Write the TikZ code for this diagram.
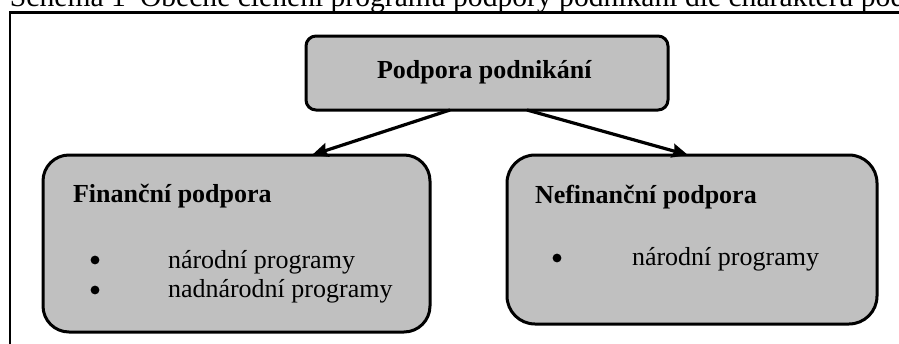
\documentclass[tikz,border=0pt]{standalone}
\usepackage{fontspec}
\setmainfont{Liberation Serif}
\usetikzlibrary{arrows.meta,calc}
\definecolor{boxgray}{HTML}{C0C0C0}
\begin{document}
\begin{tikzpicture}[x=0.5pt,y=-0.5pt,
  box/.style={draw=black,line width=1.5pt,fill=boxgray,rectangle,inner sep=0pt,outer sep=0pt},
  txt/.style={inner sep=0pt,outer sep=0pt,anchor=base west,font=\fontsize{13pt}{15pt}\selectfont},
  btxt/.style={txt,font=\fontsize{13pt}{15pt}\selectfont\bfseries},
  bullet/.style={circle,fill=black,inner sep=0pt,minimum size=4.4pt},
  conn/.style={line width=1.6pt,-{Stealth[length=8pt,width=7pt,inset=1pt]}}]
\useasboundingbox (0,0) rectangle (899,343);
% caption (cut at top)
\node[txt,font=\fontsize{14.8pt}{17pt}\selectfont] (cap) at (10,6) {\makebox[65pt][l]{Schéma 1}Obecné členění programů podpory podnikání dle charakteru podpory};
% frame
\draw[line width=1.3pt] (10,350) -- (10,12.5) -- (910,12.5);
% boxes
\node[box,rounded corners=5pt,minimum width=181pt,minimum height=37pt] (top) at (487,73) {};
\node[box,rounded corners=13pt,minimum width=193.5pt,minimum height=88.5pt] (left) at (236.5,243.5) {};
\node[box,rounded corners=14pt,minimum width=185pt,minimum height=84.5pt] (right) at (692,239.5) {};
% texts
\node[btxt] (toptxt) at (377,78) {Podpora podnikání};
\node[btxt] (lefttitle) at (73,202) {Finanční podpora};
\node[bullet] (lb1) at (95,260) {};
\node[txt] (l1) at (168,268) {národní programy};
\node[bullet] (lb2) at (95,290) {};
\node[txt] (l2) at (168,297) {nadnárodní programy};
\node[btxt] (righttitle) at (535,203) {Nefinanční podpora};
\node[bullet] (rb1) at (557,258) {};
\node[txt] (r1) at (632,265) {národní programy};
% connectors
\draw[conn] ($(top.south)+(-37,0)$) -- ($(left.north)+(75.5,0)$);
\draw[conn] ($(top.south)+(40,0)$) -- ($(right.north)+(-4,0)$);
\end{tikzpicture}
\end{document}
